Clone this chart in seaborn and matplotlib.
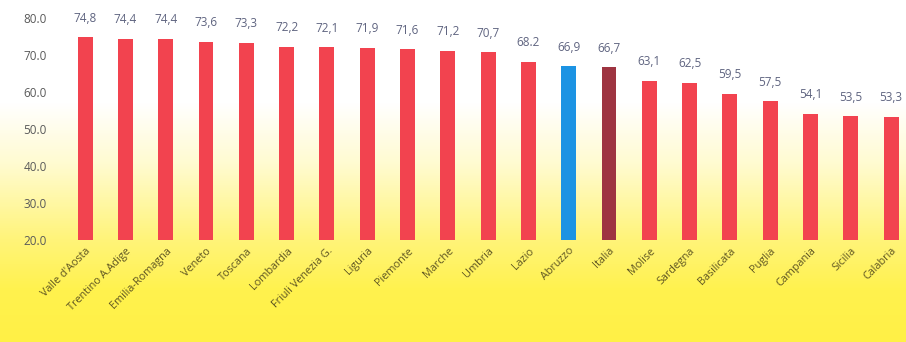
import numpy as np
import matplotlib
matplotlib.use("Agg")
import matplotlib.pyplot as plt
import seaborn as sns
from matplotlib.colors import LinearSegmentedColormap

regions = ["Valle d'Aosta", "Trentino A.Adige", "Emilia-Romagna", "Veneto", "Toscana",
           "Lombardia", "Friuli Venezia G.", "Liguria", "Piemonte", "Marche", "Umbria",
           "Lazio", "Abruzzo", "Italia", "Molise", "Sardegna", "Basilicata", "Puglia",
           "Campania", "Sicilia", "Calabria"]
values = [74.8, 74.4, 74.4, 73.6, 73.3, 72.2, 72.1, 71.9, 71.6, 71.2, 70.7,
          68.2, 66.9, 66.7, 63.1, 62.5, 59.5, 57.5, 54.1, 53.5, 53.3]
value_labels = ["74,8", "74,4", "74,4", "73,6", "73,3", "72,2", "72,1", "71,9", "71,6",
                "71,2", "70,7", "68.2", "66,9", "66,7", "63,1", "62,5", "59,5", "57,5",
                "54,1", "53,5", "53,3"]
y_ticks = [20, 30, 40, 50, 60, 70, 80]

RED, BLUE, DARK = "#F2434F", "#1C93E3", "#9E3441"
palette = {r: RED for r in regions}
palette["Abruzzo"] = BLUE
palette["Italia"] = DARK

sns.set_theme(style="white")
plt.rcParams["font.family"] = ["Open Sans", "DejaVu Sans"]

fig = plt.figure(figsize=(9.06, 3.42), dpi=100)

# white-to-yellow backdrop across the whole figure
bg = fig.add_axes([0, 0, 1, 1], zorder=-10)
cmap = LinearSegmentedColormap.from_list(
    "bg", [(0.0, "#FFFFFF"), (0.30, "#FFFFFF"), (0.48, "#FFFBD0"),
           (0.70, "#FFF47A"), (0.85, "#FFF24E"), (1.0, "#FFF046")])
grad = np.linspace(0, 1, 400).reshape(-1, 1)
bg.imshow(grad, aspect="auto", cmap=cmap, extent=[0, 1, 0, 1], origin="upper")
bg.set_axis_off()

ax = fig.add_axes([65 / 906, 1 - 240 / 342, 1 - 65 / 906, (240 - 18) / 342])
ax.patch.set_alpha(0)
sns.barplot(x=regions, y=values, hue=regions, palette=palette, legend=False,
            width=0.37, ax=ax, saturation=1, linewidth=0)

ax.set_ylim(20, 80)
ax.set_xlim(-0.5, 20.37)
ax.set_yticks(y_ticks)
ax.set_yticklabels([f"{t:.1f}" for t in y_ticks], fontsize=8.5, color="#5A5A5A")
ax.tick_params(axis="y", length=0, pad=13)
ax.tick_params(axis="x", length=0, pad=4)
ax.set_xticks(range(len(regions)))
ax.set_xticklabels(regions, rotation=45, ha="right", rotation_mode="anchor",
                   fontsize=7.8, color="#5E5522")
ax.set_xlabel("")
ax.set_ylabel("")
for s in ax.spines.values():
    s.set_visible(False)

for i, (v, lab) in enumerate(zip(values, value_labels)):
    ax.annotate(lab, (i, v), xytext=(0, 9), textcoords="offset points",
                ha="center", va="bottom", fontsize=8.5, color="#5F6480",
                annotation_clip=False)

fig.savefig("out.png", dpi=100)
